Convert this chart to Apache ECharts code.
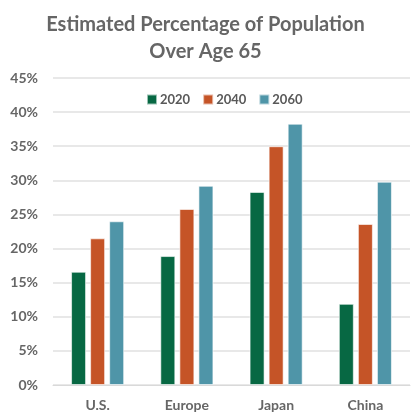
<!DOCTYPE html>
<html>
<head>
<meta charset="utf-8">
<script src="https://cdn.jsdelivr.net/npm/echarts@6/dist/echarts.min.js"></script>
<style>
  html, body { margin: 0; padding: 0; background: #fff; }
  #chart { width: 411px; height: 420px; }
</style>
</head>
<body>
<div id="chart"></div>
<script>
const regions = ["U.S.", "Europe", "Japan", "China"]
const years = ["2020", "2040", "2060"]
const share2020 = [16.6, 18.9, 28.3, 11.9]
const share2040 = [21.5, 25.8, 35.0, 23.6]
const share2060 = [24.0, 29.2, 38.3, 29.8]
const colors = ["#076843", "#c55427", "#4f95a8"]

const chart = echarts.init(document.getElementById("chart"))
const font = "Lato, 'Open Sans', sans-serif"

const seriesData = [share2020, share2040, share2060]

chart.setOption({
  animation: false,
  title: {
    text: "Estimated Percentage of Population\nOver Age 65",
    left: "center",
    top: 6,
    textStyle: { color: "#666", fontFamily: font, fontWeight: "bold", fontSize: 20, lineHeight: 27 },
  },
  legend: {
    data: years,
    top: 88,
    left: 141,
    itemWidth: 10,
    itemHeight: 10,
    itemGap: 12,
    icon: "rect",
    textStyle: { color: "#595959", fontFamily: font, fontWeight: "bold", fontSize: 13, padding: [0, 0, 0, -2] },
  },
  grid: { left: 53, right: 1, top: 78, bottom: 35 },
  xAxis: {
    type: "category",
    data: regions,
    axisTick: { show: false },
    axisLine: { lineStyle: { color: "#d9d9d9" } },
    axisLabel: { color: "#666", fontFamily: font, fontWeight: "bold", fontSize: 14, margin: 13 },
  },
  yAxis: {
    type: "value",
    min: 0,
    max: 45,
    interval: 5,
    axisLabel: { formatter: "{value}%", color: "#666", fontFamily: font, fontWeight: "bold", fontSize: 14, margin: 15 },
    splitLine: { lineStyle: { color: "#e0e0e0", width: 1.5 } },
  },
  series: years.map((y, i) => ({
    name: y,
    type: "bar",
    data: seriesData[i],
    barWidth: 15,
    barGap: "27%",
    itemStyle: { color: colors[i], borderColor: "rgba(255,255,255,0.6)", borderWidth: 1 },
  })),
})
</script>
</body>
</html>
